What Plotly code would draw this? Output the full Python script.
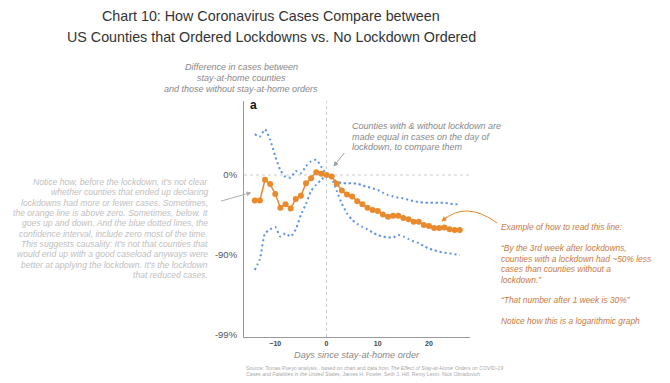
import plotly.graph_objects as go

# ---------------- data ----------------
days = list(range(-14, 27))
# ratio of cases (lockdown counties / non-lockdown counties); 1.0 = 0% difference
estimate = [0.48, 0.48, 0.87, 0.77, 0.58, 0.39, 0.43, 0.38, 0.50, 0.55,
            0.79, 0.91, 1.08, 1.04, 1.00, 0.96, 0.78, 0.64, 0.57, 0.54,
            0.47, 0.43, 0.39, 0.365, 0.355, 0.32, 0.30, 0.31, 0.31, 0.29,
            0.28, 0.26, 0.26, 0.237, 0.23, 0.217, 0.217, 0.22, 0.21, 0.205, 0.205]
upper_ci = [3.24, 3.02, 3.72, 2.75, 1.70, 1.15, 0.95, 0.93, 1.12, 1.05,
            1.29, 1.48, 1.55, 1.26, 1.00, 0.91, 0.83, 0.79, 0.79, 0.785,
            0.78, 0.74, 0.71, 0.68, 0.65, 0.60, 0.56, 0.54, 0.52, 0.51,
            0.49, 0.47, 0.46, 0.45, 0.45, 0.45, 0.45, 0.45, 0.44, 0.43, 0.43]
lower_ci = [0.065, 0.089, 0.186, 0.209, 0.224, 0.170, 0.186, 0.170, 0.209, 0.316,
            0.437, 0.631, 0.759, 0.871, 1.00, 0.912, 0.631, 0.437, 0.331, 0.275,
            0.245, 0.224, 0.209, 0.191, 0.178, 0.170, 0.166, 0.166, 0.178, 0.170,
            0.158, 0.148, 0.141, 0.129, 0.120, 0.115, 0.110, 0.107, 0.105, 0.102, 0.100]
x_ticks = [-10, 0, 10, 20]
y_tickvals = [1, 0.1, 0.01]
y_ticktext = ["0%", "-90%", "-99%"]

# ---------------- layout helpers ----------------
OFF = 8                      # default page margin of the browser body
W, H = 670 - OFF, 383 - OFF
L, R, T, B = 244, 470, 101, 337   # plot area in page pixels
def px(p):
    return (p - L) / (R - L)
def py(p):
    return (B - p) / (B - T)

FONT = "Liberation Sans"
ORANGE = "#E98A2C"
BLUE = "#5E93E3"
TXT_OR = "#C87A45"
GRAY_TXT = "#C0C0C0"

fig = go.Figure()
for ci in (upper_ci, lower_ci):
    fig.add_trace(go.Scatter(x=days, y=ci, mode="lines",
                             line=dict(color=BLUE, width=2, dash="2px,3px", shape="spline", smoothing=0.6),
                             hoverinfo="skip", showlegend=False))
fig.add_trace(go.Scatter(x=days, y=estimate, mode="lines+markers",
                         line=dict(color=ORANGE, width=1.5),
                         marker=dict(color=ORANGE, size=6), showlegend=False))

shapes = [
    dict(type="line", xref="paper", yref="y", x0=0, x1=1, y0=1, y1=1,
         line=dict(color="#CCCCCC", width=1, dash="dot"), layer="below"),
    dict(type="line", xref="x", yref="paper", x0=0, x1=0, y0=0, y1=1,
         line=dict(color="#CCCCCC", width=1, dash="dot"), layer="below"),
    dict(type="path", xref="paper", yref="paper",
         path=f"M {px(497)},{py(223)} Q {px(466)},{py(200)} {px(442)},{py(221)}",
         line=dict(color=ORANGE, width=1)),
]

ann = []
def text(x, y, s, size, color, xanchor="left", style="normal", weight="normal", family=FONT):
    ann.append(dict(xref="paper", yref="paper", x=px(x), y=py(y), text=s, showarrow=False,
                    xanchor=xanchor, yanchor="middle",
                    font=dict(family=family, size=size, color=color, style=style, weight=weight)))

# title
text(271, 16, "Chart 10: How Coronavirus Cases Compare between", 14.3, "#333", "center")
text(271, 37, "US Counties that Ordered Lockdowns vs. No Lockdown Ordered", 14.3, "#333", "center")

# y axis title
for i, s in enumerate(["Difference in cases between", "stay-at-home counties",
                       "and those without stay-at-home orders"]):
    text(241, 67 + 11 * i, s, 9, "#888", "center", style="italic")

# panel label
text(248, 105, "a", 12, "#111", "left", weight="bold")

# top annotation
for i, s in enumerate(["Counties with & without lockdown are",
                       "made equal in cases on the day of",
                       "lockdown, to compare them"]):
    text(350, 126 + 10.5 * i, s, 9, "#888", "left", style="italic")

# left annotation
left_lines = ["Notice how, before the lockdown, it's not clear",
              "whether counties that ended up declaring",
              "lockdowns had more or fewer cases. Sometimes,",
              "the orange line is above zero. Sometimes, below. It",
              "goes up and down. And the blue dotted lines, the",
              "confidence interval, include zero most of the time.",
              "This suggests causality: It's not that counties that",
              "would end up with a good caseload anyways were",
              "better at applying the lockdown. It's the lockdown",
              "that reduced cases."]
for i, s in enumerate(left_lines):
    text(210, 182 + 10.35 * i, s, 8.6, GRAY_TXT, "right", style="italic")

# right annotation
right_lines = [(227, "Example of how to read this line:"),
               (248, "“By the 3rd week after lockdowns,"),
               (258.5, "counties with a lockdown had ~50% less"),
               (269, "cases than counties without a"),
               (279.5, "lockdown.”"),
               (300, "“That number after 1 week is 30%”"),
               (321, "Notice how this is a logarithmic graph")]
for y, s in right_lines:
    text(499, y, s, 8.4, TXT_OR, "left", style="italic")

# x axis title
text(357, 355, "Days since stay-at-home order", 9.2, "#888", "center", style="italic")

# source
text(244, 367.5, "Source: Tomas Pueyo analysis , based on chart and data from <i>The Effect of Stay-at-Home Orders on COVID-19</i>", 5.2, "#AAAAAA", "left")
text(244, 374, "<i>Cases and Fatalities in the United States</i>, James H. Fowler, Seth J. Hill, Remy Levin, Nick Obradovich", 5.2, "#AAAAAA", "left")

# arrows
ann.append(dict(xref="paper", yref="paper", x=px(333.5), y=py(166.5), ax=12, ay=-15,
                showarrow=True, arrowhead=2, arrowsize=1, arrowwidth=1, arrowcolor="#A0A0A0", text=""))
ann.append(dict(xref="paper", yref="paper", x=px(251.5), y=py(192.5), ax=-32, ay=9,
                showarrow=True, arrowhead=2, arrowsize=1, arrowwidth=1, arrowcolor="#B0B0B0", text=""))
ann.append(dict(xref="paper", yref="paper", x=px(441.5), y=py(221.5), ax=7, ay=-6,
                showarrow=True, arrowhead=2, arrowsize=1, arrowwidth=1, arrowcolor=ORANGE, text=""))

fig.update_layout(
    width=W, height=H, autosize=False,
    margin=dict(l=L - OFF, r=W - (R - OFF), t=T - OFF, b=H - (B - OFF)),
    paper_bgcolor="white", plot_bgcolor="white",
    font=dict(family=FONT),
    shapes=shapes, annotations=ann, showlegend=False,
    xaxis=dict(range=[-16.1, 28.0], tickvals=x_ticks, showgrid=False, zeroline=False,
               showline=True, linecolor="#999999", linewidth=1, ticks="",
               tickfont=dict(size=7, color="#444", weight="bold"), ticklabelstandoff=0),
    yaxis=dict(type="log", range=[-2.025, 0.925], tickvals=y_tickvals, ticktext=y_ticktext,
               showgrid=False, zeroline=False, showline=True, linecolor="#999999", linewidth=1,
               ticks="", tickfont=dict(size=9.5, color="#555"), ticklabelstandoff=4),
)

fig.write_html("out.html")
